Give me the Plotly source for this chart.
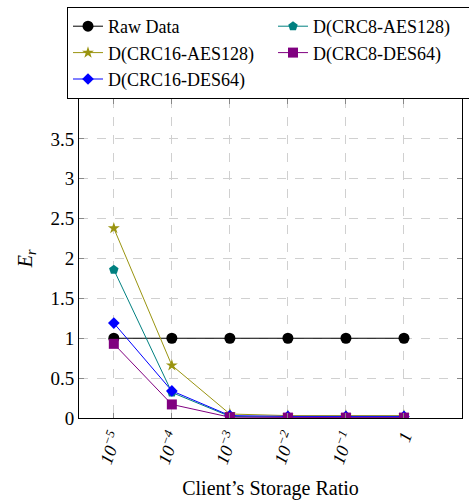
import plotly.graph_objects as go

x_pos = [0, 1, 2, 3, 4, 5]
x_labels = ["<i>10<sup>−5</sup></i>", "<i>10<sup>−4</sup></i>", "<i>10<sup>−3</sup></i>",
            "<i>10<sup>−2</sup></i>", "<i>10<sup>−1</sup></i>", "<i>1</i>"]
y_ticks = [0, 0.5, 1, 1.5, 2, 2.5, 3, 3.5]
y_labels = ["0", "0.5", "1", "1.5", "2", "2.5", "3", "3.5"]

raw_data = [1, 1, 1, 1, 1, 1]
crc8_aes128 = [1.86, 0.32, 0.02, 0.01, 0.01, 0.01]
crc16_aes128 = [2.38, 0.66, 0.05, 0.03, 0.03, 0.03]
crc8_des64 = [0.93, 0.17, 0.01, 0.005, 0.005, 0.005]
crc16_des64 = [1.19, 0.34, 0.03, 0.02, 0.02, 0.02]

series = [
    ("Raw Data", raw_data, "black", "circle", 11),
    ("D(CRC8-AES128)", crc8_aes128, "#008080", "pentagon", 10),
    ("D(CRC16-AES128)", crc16_aes128, "#9a9410", "star", 9),
    ("D(CRC8-DES64)", crc8_des64, "#800080", "square", 10),
    ("D(CRC16-DES64)", crc16_des64, "#0000ff", "diamond", 9),
]

fig = go.Figure()
draw_order = [0, 2, 1, 4, 3]
for i in draw_order:
    name, vals, col, sym, sz = series[i]
    fig.add_trace(go.Scatter(
        x=x_pos, y=vals, mode="lines+markers", name=name,
        line=dict(color=col, width=1),
        marker=dict(color=col, symbol=sym, size=sz, line=dict(width=0)),
        legendrank=i,
    ))

font = "Liberation Serif"
fig.update_layout(
    width=469, height=500,
    margin=dict(l=79, r=7, t=99, b=82, autoexpand=False),
    plot_bgcolor="white", paper_bgcolor="white",
    font=dict(family=font, size=18, color="black"),
    showlegend=True,
    legend=dict(
        orientation="h", xref="paper", yref="paper",
        x=-12/383, y=1 + 92/319, xanchor="left", yanchor="top",
        bordercolor="black", borderwidth=1, bgcolor="white",
        entrywidth=160, entrywidthmode="pixels",
        font=dict(family=font, size=18), tracegroupgap=0,
        traceorder="normal",
    ),
    xaxis=dict(
        range=[-0.6, 6.0], tickmode="array", tickvals=x_pos, ticktext=x_labels,
        tickangle=-70, showgrid=True, gridcolor="#d0d0d0", griddash="dash", gridwidth=1,
        showline=True, linecolor="black", linewidth=1, mirror="ticks",
        ticks="inside", ticklen=5, tickcolor="#888888", zeroline=False,
        title=dict(text="Client’s Storage Ratio", font=dict(size=20), standoff=18),
        tickfont=dict(size=18),
    ),
    yaxis=dict(
        range=[0, 4.0], tickmode="array", tickvals=y_ticks, ticktext=y_labels,
        showgrid=True, gridcolor="#d0d0d0", griddash="dash", gridwidth=1,
        showline=True, linecolor="black", linewidth=1, mirror="ticks",
        ticks="inside", ticklen=5, tickcolor="#888888", zeroline=False,
        title=dict(text="<i>E<sub>r</sub></i>", font=dict(size=20), standoff=12),
        tickfont=dict(size=19),
    ),
)

fig.write_html("out.html")
